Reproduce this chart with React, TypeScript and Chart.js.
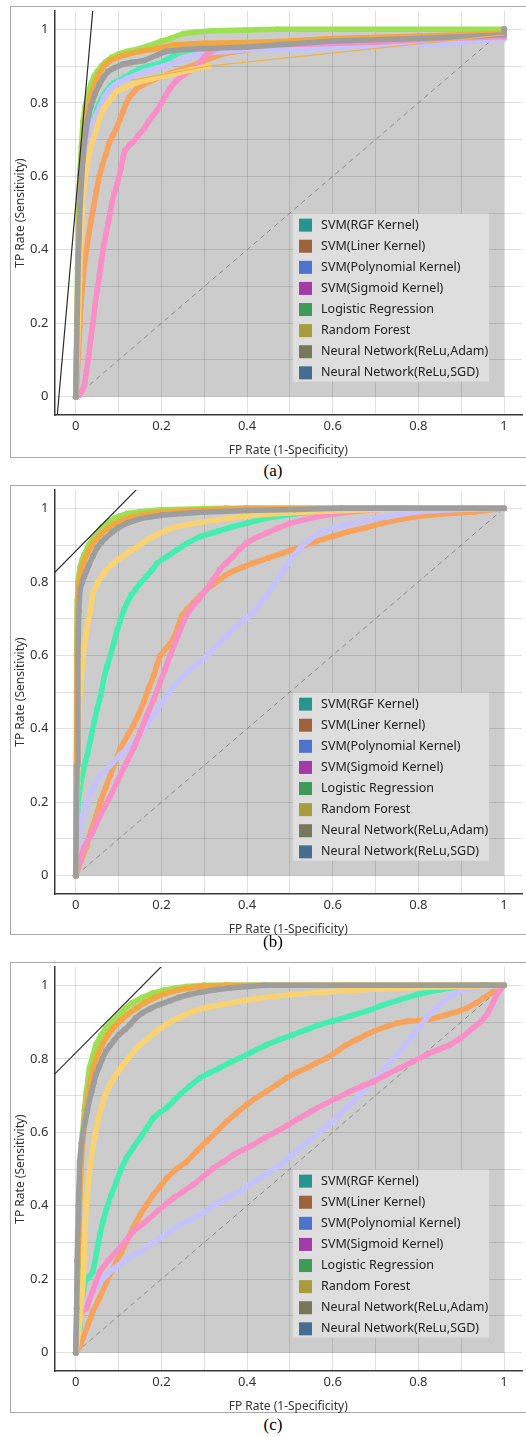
import React, { useEffect, useRef } from 'react';
import { Chart, registerables } from 'chart.js';

Chart.register(...registerables);

type Pt = [number, number];

// ---- Models, legend swatches and curve colours ----
const MODEL_NAMES = [
  'SVM(RGF Kernel)',
  'SVM(Liner Kernel)',
  'SVM(Polynomial Kernel)',
  'SVM(Sigmoid Kernel)',
  'Logistic Regression',
  'Random Forest',
  'Neural Network(ReLu,Adam)',
  'Neural Network(ReLu,SGD)',
];
const LEGEND_COLORS = ['#27958f', '#9e623d', '#4d74cc', '#a23aa8', '#3d9a57', '#a99c3e', '#777759', '#446d90'];
const CURVE_COLORS = ['#45eeb0', '#f5a35e', '#c6c2fb', '#f88fc6', '#9de052', '#f9d272', '#9e9e9e', '#f2a840'];
// stacking of the curves, lower number is drawn on top
const CURVE_ORDER = [8, 7, 6, 5, 4, 2, 1, 3];
const LR_INDEX = 4;

// ---- Axis ticks ----
const GRID_VALUES = [0, 0.1, 0.2, 0.3, 0.4, 0.5, 0.6, 0.7, 0.8, 0.9, 1];
const TICK_LABELS = ['0', '', '0.2', '', '0.4', '', '0.6', '', '0.8', '', '1'];
const X_TITLE = 'FP Rate (1-Specificity)';
const Y_TITLE = 'TP Rate (Sensitivity)';
const CAPTIONS = ['(a)', '(b)', '(c)'];

// chance diagonal
const DIAGONAL: Pt[] = [[0, 0], [1, 1]];

// ---- Panel (a) ROC curves (FPR, TPR) ----
const A_RGF: Pt[] = [[0,0],[0.004,0.25],[0.008,0.42],[0.012,0.52],[0.017,0.6],[0.022,0.64],[0.028,0.69],[0.035,0.73],[0.043,0.76],[0.05,0.785],[0.06,0.81],[0.07,0.83],[0.08,0.845],[0.09,0.855],[0.1,0.86],[0.115,0.87],[0.13,0.88],[0.15,0.893],[0.17,0.9],[0.19,0.905],[0.21,0.915],[0.23,0.93],[0.25,0.94],[0.28,0.945],[0.35,0.95],[0.45,0.955],[0.6,0.965],[0.8,0.975],[1,0.985],[1,1]];
const A_LINER: Pt[] = [[0,0],[0.003,0.05],[0.006,0.12],[0.009,0.19],[0.012,0.25],[0.016,0.31],[0.02,0.36],[0.025,0.4],[0.03,0.44],[0.036,0.48],[0.042,0.52],[0.048,0.56],[0.055,0.6],[0.062,0.63],[0.07,0.66],[0.078,0.69],[0.086,0.71],[0.095,0.73],[0.103,0.755],[0.11,0.775],[0.118,0.8],[0.125,0.815],[0.133,0.826],[0.142,0.838],[0.155,0.848],[0.18,0.862],[0.22,0.88],[0.27,0.9],[0.3,0.915],[0.35,0.935],[0.45,0.952],[0.6,0.963],[0.8,0.978],[1,0.99],[1,1]];
const A_POLY: Pt[] = [[0,0],[0.004,0.22],[0.008,0.38],[0.013,0.5],[0.018,0.58],[0.024,0.65],[0.03,0.7],[0.038,0.74],[0.047,0.765],[0.057,0.79],[0.067,0.815],[0.078,0.835],[0.09,0.848],[0.1,0.856],[0.12,0.866],[0.14,0.875],[0.16,0.885],[0.19,0.895],[0.22,0.905],[0.25,0.918],[0.28,0.93],[0.31,0.937],[0.35,0.94],[0.4,0.945],[0.5,0.948],[0.6,0.95],[0.7,0.955],[0.85,0.96],[1,0.975],[1,1]];
const A_SIG: Pt[] = [[0,0],[0.01,0.005],[0.02,0.03],[0.025,0.07],[0.03,0.11],[0.035,0.16],[0.04,0.2],[0.045,0.25],[0.05,0.29],[0.055,0.33],[0.06,0.37],[0.065,0.41],[0.07,0.44],[0.075,0.47],[0.08,0.5],[0.085,0.53],[0.09,0.555],[0.097,0.58],[0.105,0.62],[0.11,0.65],[0.115,0.67],[0.125,0.685],[0.135,0.695],[0.145,0.71],[0.16,0.73],[0.17,0.75],[0.18,0.765],[0.19,0.78],[0.2,0.8],[0.21,0.82],[0.22,0.84],[0.235,0.86],[0.25,0.875],[0.265,0.885],[0.28,0.895],[0.29,0.91],[0.3,0.925],[0.315,0.94],[0.33,0.948],[0.35,0.955],[0.45,0.958],[0.55,0.96],[0.7,0.965],[0.85,0.975],[1,0.98],[1,1]];
const A_LR: Pt[] = [[0,0],[0.002,0.18],[0.004,0.35],[0.006,0.48],[0.009,0.6],[0.013,0.68],[0.017,0.75],[0.022,0.79],[0.028,0.82],[0.035,0.85],[0.042,0.87],[0.05,0.885],[0.06,0.9],[0.07,0.912],[0.085,0.925],[0.1,0.933],[0.12,0.94],[0.15,0.948],[0.17,0.955],[0.2,0.968],[0.22,0.975],[0.25,0.988],[0.28,0.993],[0.32,0.996],[0.4,0.998],[0.47,1],[1,1]];
const A_RF: Pt[] = [[0,0],[0.003,0.1],[0.006,0.2],[0.009,0.32],[0.012,0.43],[0.016,0.52],[0.02,0.58],[0.026,0.63],[0.033,0.67],[0.04,0.7],[0.048,0.73],[0.056,0.76],[0.065,0.785],[0.075,0.8],[0.085,0.815],[0.095,0.83],[0.11,0.84],[0.13,0.85],[0.15,0.858],[0.18,0.866],[0.21,0.874],[0.24,0.882],[0.27,0.89],[0.31,0.9]];
const A_ADAM: Pt[] = [[0,0],[0.003,0.2],[0.006,0.38],[0.01,0.52],[0.015,0.62],[0.02,0.69],[0.027,0.75],[0.035,0.79],[0.045,0.825],[0.055,0.85],[0.065,0.87],[0.075,0.885],[0.09,0.895],[0.11,0.905],[0.13,0.91],[0.16,0.915],[0.19,0.93],[0.21,0.94],[0.25,0.945],[0.3,0.948],[0.4,0.952],[0.5,0.96],[0.6,0.968],[0.8,0.975],[1,0.985],[1,1]];
const A_SGD: Pt[] = [[0,0],[0.003,0.2],[0.006,0.4],[0.01,0.55],[0.015,0.66],[0.02,0.73],[0.027,0.78],[0.035,0.82],[0.045,0.855],[0.055,0.88],[0.065,0.9],[0.08,0.915],[0.1,0.925],[0.12,0.932],[0.15,0.94],[0.19,0.948],[0.23,0.958],[0.3,0.962],[0.4,0.964],[0.5,0.968],[0.6,0.975],[0.75,0.98],[0.9,0.985],[1,0.99],[1,1]];
// thin convex-hull tail of the random forest curve
const A_RF_HULL: Pt[] = [[0.13,0.862],[0.31,0.9],[1,0.985]];
// iso-performance line
const A_ISO: Pt[] = [[-0.047,-0.1],[0.044,1.11]];

// ---- Panel (b) ROC curves ----
const B_RGF: Pt[] = [[0,0],[0.002,0.08],[0.004,0.16],[0.006,0.21],[0.01,0.24],[0.015,0.27],[0.02,0.3],[0.027,0.33],[0.035,0.375],[0.043,0.42],[0.05,0.455],[0.058,0.49],[0.066,0.54],[0.073,0.57],[0.081,0.6],[0.089,0.635],[0.097,0.67],[0.105,0.7],[0.113,0.725],[0.12,0.743],[0.13,0.765],[0.14,0.78],[0.151,0.797],[0.165,0.815],[0.178,0.832],[0.19,0.851],[0.21,0.867],[0.236,0.887],[0.26,0.905],[0.29,0.923],[0.33,0.937],[0.367,0.95],[0.4,0.96],[0.445,0.973],[0.5,0.983],[0.55,0.99],[0.6,0.995],[0.7,1],[1,1]];
const B_LINER: Pt[] = [[0,0],[0.012,0.04],[0.025,0.08],[0.035,0.12],[0.047,0.16],[0.058,0.203],[0.07,0.24],[0.081,0.275],[0.092,0.31],[0.104,0.347],[0.12,0.38],[0.135,0.41],[0.147,0.44],[0.159,0.473],[0.17,0.51],[0.182,0.545],[0.19,0.575],[0.197,0.599],[0.212,0.62],[0.228,0.644],[0.238,0.675],[0.247,0.707],[0.26,0.725],[0.275,0.743],[0.29,0.762],[0.305,0.779],[0.32,0.793],[0.336,0.806],[0.35,0.818],[0.367,0.829],[0.39,0.84],[0.414,0.851],[0.45,0.865],[0.483,0.878],[0.52,0.893],[0.561,0.91],[0.6,0.924],[0.638,0.937],[0.68,0.948],[0.715,0.959],[0.75,0.968],[0.793,0.977],[0.83,0.982],[0.87,0.986],[0.93,0.99],[1,1]];
const B_POLY: Pt[] = [[0,0],[0.003,0.06],[0.008,0.12],[0.015,0.16],[0.027,0.2],[0.04,0.24],[0.058,0.275],[0.08,0.3],[0.104,0.329],[0.128,0.355],[0.151,0.383],[0.165,0.41],[0.182,0.437],[0.197,0.465],[0.213,0.491],[0.228,0.515],[0.244,0.536],[0.265,0.558],[0.29,0.581],[0.31,0.603],[0.329,0.626],[0.348,0.648],[0.367,0.671],[0.39,0.693],[0.414,0.716],[0.43,0.74],[0.445,0.761],[0.46,0.788],[0.476,0.815],[0.49,0.84],[0.507,0.869],[0.525,0.893],[0.545,0.914],[0.565,0.93],[0.584,0.941],[0.63,0.955],[0.677,0.968],[0.73,0.978],[0.793,0.99],[0.87,0.996],[1,1]];
const B_SIG: Pt[] = [[0,0],[0.01,0.04],[0.019,0.077],[0.04,0.12],[0.058,0.167],[0.078,0.21],[0.097,0.257],[0.115,0.3],[0.135,0.347],[0.15,0.39],[0.166,0.437],[0.182,0.48],[0.197,0.527],[0.208,0.56],[0.22,0.599],[0.232,0.635],[0.244,0.671],[0.255,0.7],[0.267,0.725],[0.285,0.75],[0.305,0.779],[0.32,0.805],[0.336,0.833],[0.35,0.85],[0.367,0.869],[0.382,0.888],[0.398,0.905],[0.42,0.92],[0.445,0.932],[0.47,0.945],[0.499,0.959],[0.53,0.968],[0.561,0.977],[0.6,0.984],[0.638,0.99],[0.7,0.996],[0.75,1],[1,1]];
const B_LR: Pt[] = [[0,0],[0.001,0.3],[0.002,0.6],[0.003,0.75],[0.005,0.8],[0.01,0.84],[0.015,0.86],[0.02,0.875],[0.03,0.9],[0.04,0.918],[0.05,0.932],[0.06,0.948],[0.075,0.962],[0.09,0.973],[0.1,0.978],[0.12,0.986],[0.15,0.991],[0.2,0.996],[0.3,0.999],[0.35,1],[1,1]];
const B_RF: Pt[] = [[0,0],[0.002,0.1],[0.004,0.25],[0.006,0.38],[0.008,0.45],[0.01,0.5],[0.014,0.56],[0.018,0.61],[0.023,0.65],[0.028,0.69],[0.034,0.72],[0.04,0.77],[0.05,0.795],[0.06,0.815],[0.07,0.83],[0.085,0.848],[0.1,0.862],[0.12,0.878],[0.135,0.888],[0.155,0.905],[0.172,0.918],[0.2,0.935],[0.234,0.95],[0.27,0.958],[0.327,0.968],[0.4,0.98],[0.5,0.988],[0.6,0.993],[0.7,0.997],[0.8,1],[1,1]];
const B_ADAM: Pt[] = [[0,0],[0.003,0.3],[0.005,0.6],[0.007,0.72],[0.01,0.78],[0.015,0.8],[0.02,0.815],[0.025,0.83],[0.03,0.845],[0.04,0.87],[0.05,0.893],[0.06,0.908],[0.07,0.92],[0.085,0.935],[0.1,0.948],[0.12,0.96],[0.15,0.972],[0.2,0.981],[0.25,0.986],[0.3,0.99],[0.4,0.994],[0.51,0.997],[0.62,1],[1,1]];
const B_SGD: Pt[] = [[0,0],[0.002,0.5],[0.004,0.72],[0.006,0.79],[0.01,0.82],[0.015,0.845],[0.02,0.86],[0.03,0.885],[0.04,0.905],[0.05,0.92],[0.06,0.932],[0.075,0.946],[0.09,0.958],[0.11,0.968],[0.13,0.976],[0.16,0.984],[0.2,0.99],[0.3,0.996],[0.4,1],[1,1]];
const B_ISO: Pt[] = [[-0.1,0.766],[0.2,1.12]];

// ---- Panel (c) ROC curves ----
const C_RGF: Pt[] = [[0,0],[0.004,0.03],[0.009,0.066],[0.014,0.13],[0.018,0.17],[0.021,0.193],[0.03,0.205],[0.04,0.22],[0.048,0.27],[0.056,0.32],[0.064,0.36],[0.072,0.393],[0.083,0.43],[0.095,0.466],[0.106,0.5],[0.118,0.53],[0.134,0.558],[0.15,0.584],[0.165,0.61],[0.181,0.639],[0.197,0.655],[0.212,0.666],[0.228,0.685],[0.243,0.702],[0.265,0.725],[0.29,0.748],[0.313,0.762],[0.336,0.775],[0.36,0.79],[0.383,0.802],[0.41,0.818],[0.445,0.838],[0.475,0.852],[0.508,0.866],[0.54,0.88],[0.57,0.893],[0.6,0.903],[0.64,0.916],[0.68,0.93],[0.718,0.947],[0.755,0.96],[0.796,0.975],[0.85,0.988],[0.9,0.997],[0.95,1],[1,1]];
const C_LINER: Pt[] = [[0,0],[0.008,0.015],[0.017,0.039],[0.028,0.075],[0.04,0.112],[0.056,0.15],[0.072,0.193],[0.083,0.22],[0.095,0.248],[0.107,0.275],[0.118,0.302],[0.134,0.34],[0.15,0.375],[0.165,0.402],[0.181,0.43],[0.197,0.452],[0.212,0.475],[0.235,0.5],[0.259,0.52],[0.282,0.548],[0.305,0.575],[0.33,0.603],[0.352,0.629],[0.375,0.652],[0.399,0.675],[0.42,0.693],[0.445,0.711],[0.47,0.73],[0.492,0.748],[0.515,0.762],[0.539,0.775],[0.56,0.788],[0.586,0.802],[0.61,0.82],[0.632,0.838],[0.655,0.852],[0.679,0.866],[0.7,0.877],[0.726,0.888],[0.75,0.897],[0.773,0.902],[0.8,0.904],[0.82,0.906],[0.845,0.913],[0.866,0.92],[0.89,0.928],[0.913,0.938],[0.935,0.952],[0.952,0.965],[0.975,0.983],[1,1]];
const C_POLY: Pt[] = [[0,0],[0.004,0.06],[0.009,0.112],[0.02,0.135],[0.033,0.157],[0.052,0.185],[0.072,0.212],[0.09,0.23],[0.111,0.248],[0.13,0.262],[0.15,0.275],[0.173,0.293],[0.196,0.312],[0.22,0.33],[0.243,0.348],[0.266,0.362],[0.29,0.375],[0.313,0.393],[0.336,0.411],[0.36,0.425],[0.383,0.439],[0.406,0.457],[0.43,0.475],[0.453,0.493],[0.477,0.511],[0.5,0.534],[0.523,0.557],[0.547,0.58],[0.57,0.602],[0.594,0.625],[0.617,0.648],[0.64,0.675],[0.664,0.702],[0.687,0.73],[0.71,0.757],[0.733,0.79],[0.757,0.82],[0.772,0.843],[0.788,0.866],[0.803,0.888],[0.819,0.911],[0.838,0.935],[0.858,0.956],[0.877,0.972],[0.897,0.984],[0.928,0.993],[0.96,0.997],[1,1]];
const C_SIG: Pt[] = [[0,0],[0.005,0.05],[0.01,0.1],[0.017,0.115],[0.025,0.121],[0.04,0.17],[0.056,0.22],[0.075,0.25],[0.095,0.275],[0.115,0.302],[0.134,0.33],[0.158,0.352],[0.181,0.375],[0.204,0.398],[0.227,0.42],[0.25,0.438],[0.274,0.457],[0.298,0.48],[0.321,0.502],[0.345,0.52],[0.368,0.539],[0.39,0.552],[0.414,0.566],[0.44,0.584],[0.469,0.602],[0.496,0.62],[0.523,0.639],[0.55,0.657],[0.578,0.675],[0.61,0.693],[0.64,0.711],[0.668,0.725],[0.695,0.738],[0.726,0.757],[0.757,0.775],[0.788,0.793],[0.819,0.811],[0.846,0.825],[0.874,0.838],[0.9,0.857],[0.928,0.884],[0.945,0.9],[0.96,0.92],[0.972,0.948],[0.983,0.975],[1,1]];
const C_LR: Pt[] = [[0,0],[0.002,0.1],[0.005,0.2],[0.007,0.32],[0.009,0.43],[0.012,0.54],[0.016,0.6],[0.02,0.66],[0.024,0.705],[0.028,0.74],[0.032,0.775],[0.04,0.81],[0.047,0.838],[0.058,0.862],[0.07,0.884],[0.085,0.903],[0.1,0.92],[0.115,0.937],[0.132,0.952],[0.155,0.967],[0.18,0.979],[0.205,0.987],[0.233,0.993],[0.26,0.997],[0.3,1],[1,1]];
const C_RF: Pt[] = [[0,0],[0.006,0.05],[0.011,0.1],[0.015,0.16],[0.018,0.22],[0.02,0.29],[0.022,0.35],[0.025,0.41],[0.029,0.46],[0.034,0.51],[0.04,0.56],[0.046,0.6],[0.053,0.64],[0.06,0.67],[0.068,0.7],[0.078,0.725],[0.09,0.75],[0.103,0.772],[0.115,0.79],[0.13,0.812],[0.147,0.835],[0.165,0.852],[0.185,0.872],[0.21,0.893],[0.24,0.912],[0.272,0.929],[0.305,0.94],[0.341,0.947],[0.37,0.954],[0.403,0.961],[0.45,0.968],[0.5,0.975],[0.6,0.983],[0.7,0.99],[0.8,0.994],[0.9,0.997],[1,1]];
const C_ADAM: Pt[] = [[0,0],[0.002,0.12],[0.003,0.25],[0.006,0.4],[0.009,0.52],[0.013,0.57],[0.016,0.593],[0.022,0.63],[0.027,0.66],[0.031,0.684],[0.037,0.71],[0.042,0.735],[0.047,0.757],[0.055,0.78],[0.062,0.8],[0.07,0.82],[0.08,0.836],[0.09,0.851],[0.101,0.866],[0.115,0.88],[0.128,0.895],[0.14,0.911],[0.155,0.925],[0.175,0.937],[0.194,0.947],[0.22,0.958],[0.24,0.967],[0.264,0.975],[0.29,0.981],[0.326,0.988],[0.36,0.993],[0.4,0.997],[0.44,1],[1,1]];
const C_SGD: Pt[] = [[0,0],[0.003,0.15],[0.006,0.3],[0.009,0.42],[0.013,0.52],[0.018,0.6],[0.023,0.66],[0.028,0.7],[0.035,0.745],[0.043,0.785],[0.052,0.815],[0.063,0.842],[0.075,0.865],[0.09,0.888],[0.105,0.905],[0.12,0.92],[0.14,0.937],[0.16,0.952],[0.185,0.967],[0.21,0.978],[0.24,0.988],[0.27,0.994],[0.3,0.997],[0.35,1],[1,1]];
const C_ISO: Pt[] = [[-0.1,0.699],[0.25,1.11]];

// ---- Styling ----
const FONT = '"Noto Sans", "DejaVu Sans", sans-serif';
const TEXT_COLOR = '#333333';
const GRID_COLOR = 'rgba(0,0,0,0.12)';
const AUC_FILL = 'rgba(0,0,0,0.2)';
const X_MAX = 1.042;
const CANVAS_W = 515;
const CANVAS_H = 451;

const toXY = (pts: Pt[]) => pts.map(([x, y]) => ({ x, y }));

// Legend box anchored to the lower-right corner of the unit square
const rocLegend = {
  id: 'rocLegend',
  afterDatasetsDraw(chart: any) {
    const { ctx, scales } = chart;
    const w = 196;
    const h = 168;
    const right = scales.x.getPixelForValue(1) - 15;
    const bottom = scales.y.getPixelForValue(0) - 15;
    const left = right - w;
    const top = bottom - h;
    ctx.save();
    ctx.fillStyle = '#dedede';
    ctx.fillRect(left, top, w, h);
    ctx.font = `12.5px ${FONT}`;
    ctx.textBaseline = 'middle';
    ctx.textAlign = 'left';
    MODEL_NAMES.forEach((name, i) => {
      const cy = top + 11.5 + i * 21.1;
      ctx.fillStyle = LEGEND_COLORS[i];
      ctx.fillRect(left + 6, cy - 6.5, 13, 13);
      ctx.fillStyle = '#222222';
      ctx.fillText(name, left + 28, cy);
    });
    ctx.restore();
  },
};

type PanelProps = {
  curves: Pt[][];
  iso: Pt[];
  extras?: { data: Pt[]; color: string }[];
  boxTop: number;
  boxHeight: number;
  caption: string;
  captionTop: number;
};

function RocPanel({ curves, iso, extras, boxTop, boxHeight, caption, captionTop }: PanelProps) {
  const ref = useRef<HTMLCanvasElement | null>(null);

  useEffect(() => {
    if (!ref.current) return;
    const datasets: any[] = [];
    datasets.push({
      label: 'iso',
      data: toXY(iso),
      borderColor: '#2b2b2b',
      borderWidth: 1.2,
      order: -1,
      fill: false,
    });
    (extras || []).forEach((e, k) =>
      datasets.push({
        label: `hull${k}`,
        data: toXY(e.data),
        borderColor: e.color,
        borderWidth: 1.3,
        order: 0,
        fill: false,
      })
    );
    curves.forEach((pts, i) =>
      datasets.push({
        label: MODEL_NAMES[i],
        data: toXY(pts),
        borderColor: CURVE_COLORS[i],
        backgroundColor: AUC_FILL,
        pointBackgroundColor: CURVE_COLORS[i],
        pointBorderWidth: 0,
        pointRadius: 3,
        borderWidth: 5.5,
        order: CURVE_ORDER[i],
        fill: i === LR_INDEX ? 'origin' : false,
      })
    );
    datasets.push({
      label: 'chance',
      data: toXY(DIAGONAL),
      borderColor: '#8a8a8a',
      borderWidth: 1,
      borderDash: [5, 4],
      borderCapStyle: 'butt',
      order: 20,
      fill: false,
    });

    const axisTicks = {
      autoSkip: false,
      maxRotation: 0,
      color: TEXT_COLOR,
      font: { family: FONT, size: 13 },
      callback: (_v: any, i: number) => TICK_LABELS[i],
    };
    const setTicks = (s: any) => {
      s.ticks = GRID_VALUES.map((v) => ({ value: v }));
    };

    const chart = new Chart(ref.current, {
      type: 'line',
      data: { datasets },
      plugins: [rocLegend],
      options: {
        responsive: false,
        animation: false,
        events: [],
        layout: { padding: { top: 1.5, left: 0, right: 0, bottom: 0 } },
        elements: {
          point: { radius: 0 },
          line: { tension: 0, borderCapStyle: 'round', borderJoinStyle: 'round' },
        },
        plugins: {
          legend: { display: false },
          tooltip: { enabled: false },
          filler: { drawTime: 'beforeDatasetsDraw' },
        } as any,
        scales: {
          x: {
            type: 'linear',
            min: -0.05,
            max: X_MAX,
            afterBuildTicks: setTicks,
            afterFit: (s: any) => {
              s.height = 43;
              s.paddingLeft = 0;
              s.paddingRight = 0;
            },
            grid: { color: GRID_COLOR, drawTicks: false },
            border: { display: true, color: '#3a3a3a', width: 1.5 },
            ticks: { ...axisTicks, padding: 3 },
            title: {
              display: true,
              text: X_TITLE,
              color: TEXT_COLOR,
              font: { family: FONT, size: 12 },
              padding: { top: 0, bottom: 0 },
            },
          },
          y: {
            type: 'linear',
            min: -0.05,
            max: 1.05,
            afterBuildTicks: setTicks,
            afterFit: (s: any) => {
              s.width = 43.4;
              s.paddingTop = 0;
              s.paddingBottom = 0;
            },
            grid: { color: GRID_COLOR, drawTicks: false },
            border: { display: true, color: '#3a3a3a', width: 1.5 },
            ticks: { ...axisTicks, padding: 6 },
            title: {
              display: true,
              text: Y_TITLE,
              color: TEXT_COLOR,
              font: { family: FONT, size: 12 },
              padding: { top: 2, bottom: 0 },
            },
          },
        },
      } as any,
    });
    return () => chart.destroy();
  }, []);

  return (
    <>
      <div
        style={{
          position: 'absolute',
          left: 10,
          top: boxTop,
          width: 540,
          height: boxHeight,
          border: '1px solid #a9a9a9',
          background: '#ffffff',
          boxSizing: 'border-box',
        }}
      />
      <canvas
        ref={ref}
        width={CANVAS_W}
        height={CANVAS_H}
        style={{ position: 'absolute', left: 11, top: boxTop + 1, width: CANVAS_W, height: CANVAS_H }}
      />
      <div
        style={{
          position: 'absolute',
          left: 223,
          width: 100,
          top: captionTop,
          height: 18,
          lineHeight: '18px',
          textAlign: 'center',
          fontFamily: '"Liberation Serif", "Times New Roman", serif',
          fontSize: 17,
          color: '#000',
        }}
      >
        {caption}
      </div>
    </>
  );
}

export default function App() {
  return (
    <div
      style={{
        position: 'absolute',
        left: 0,
        top: 0,
        width: 526,
        height: 1437,
        overflow: 'hidden',
        background: '#ffffff',
      }}
    >
      <RocPanel
        curves={[A_RGF, A_LINER, A_POLY, A_SIG, A_LR, A_RF, A_ADAM, A_SGD]}
        iso={A_ISO}
        extras={[{ data: A_RF_HULL, color: '#e9b44a' }]}
        boxTop={6}
        boxHeight={452}
        caption={CAPTIONS[0]}
        captionTop={462}
      />
      <RocPanel
        curves={[B_RGF, B_LINER, B_POLY, B_SIG, B_LR, B_RF, B_ADAM, B_SGD]}
        iso={B_ISO}
        boxTop={485}
        boxHeight={450}
        caption={CAPTIONS[1]}
        captionTop={933}
      />
      <RocPanel
        curves={[C_RGF, C_LINER, C_POLY, C_SIG, C_LR, C_RF, C_ADAM, C_SGD]}
        iso={C_ISO}
        boxTop={962}
        boxHeight={451}
        caption={CAPTIONS[2]}
        captionTop={1416}
      />
    </div>
  );
}
